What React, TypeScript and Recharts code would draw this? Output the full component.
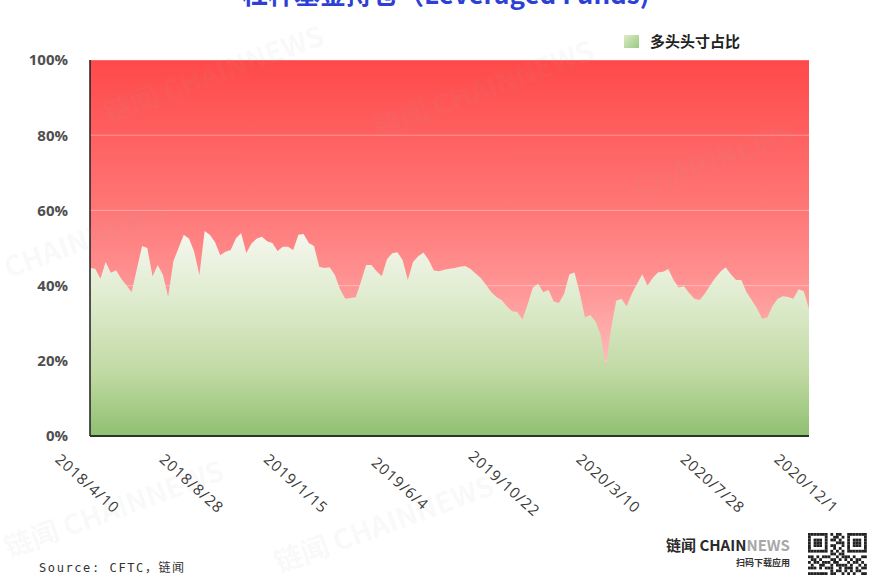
import React from "react";
import { AreaChart, Area, XAxis, YAxis, CartesianGrid } from "recharts";

// Weekly share of long positions (%), leveraged funds, 2018/4/10 .. 2020/12/1
const longRatio: number[] = [
  44.7, 44.5, 41.8, 46.3, 43.4, 44.1, 41.8, 40.0, 38.3, 44.5,
  50.5, 50.0, 42.5, 45.5, 42.8, 37.0, 46.5, 50.0, 53.5, 52.5,
  49.0, 42.8, 54.5, 53.5, 51.5, 48.1, 49.0, 49.5, 52.5, 54.0,
  48.7, 51.2, 52.5, 53.0, 51.8, 51.3, 49.2, 50.3, 50.3, 49.5,
  53.5, 53.7, 51.3, 50.5, 45.0, 44.7, 44.9, 42.8, 39.0, 36.5,
  36.7, 36.9, 41.0, 45.5, 45.5, 43.8, 42.5, 47.0, 48.6, 48.9,
  46.8, 41.5, 46.3, 47.8, 48.8, 46.8, 44.0, 43.8, 44.2, 44.5,
  44.7, 45.0, 45.2, 44.5, 43.2, 42.0, 40.2, 38.3, 37.0, 36.2,
  34.5, 33.2, 33.0, 31.0, 35.0, 39.5, 40.5, 38.2, 38.8, 35.8,
  35.4, 37.8, 43.0, 43.5, 38.0, 31.6, 32.2, 30.5, 27.0, 18.4,
  28.5, 36.0, 36.5, 34.5, 37.8, 40.5, 43.0, 40.0, 42.0, 43.5,
  43.7, 44.4, 41.5, 39.5, 39.8, 38.0, 36.5, 36.2, 37.8, 40.0,
  42.0, 43.7, 44.9, 43.0, 41.5, 41.5, 38.3, 36.2, 34.0, 31.2,
  31.5, 34.6, 36.5, 37.2, 37.0, 36.5, 39.0, 38.5, 33.8,
];

const startDate = [2018, 4, 10];
const xTickLabels = [
  "2018/4/10", "2018/8/28", "2019/1/15", "2019/6/4",
  "2019/10/22", "2020/3/10", "2020/7/28", "2020/12/1",
];
const yTicks = [0, 20, 40, 60, 80, 100];
const titleText = "杠杆基金持仓（Leveraged Funds)";
const legendText = "多头头寸占比";
const sourceText = "Source: CFTC，链闻";

function weeklyDate(i: number): string {
  const d = new Date(Date.UTC(startDate[0], startDate[1] - 1, startDate[2] + 7 * i));
  return `${d.getUTCFullYear()}/${d.getUTCMonth() + 1}/${d.getUTCDate()}`;
}

const data = longRatio.map((v, i) => ({ date: weeklyDate(i), long: v }));

const QR_ROWS = [
  "111111101011001111111",
  "100000100110101000001",
  "101110101101001011101",
  "101110100011101011101",
  "101110101100101011101",
  "100000100101001000001",
  "111111101010101111111",
  "000000001101100000000",
  "110101110010111010011",
  "011010001101010101100",
  "101101110110001011010",
  "010011001011110100101",
  "111010111001011101011",
  "000000001011010101100",
  "111111101100101010011",
];

const XTick = (props: any) => {
  const { x, y, payload } = props;
  return (
    <g transform={`translate(${x},${y})`}>
      <text
        transform="translate(-2,39) rotate(42)"
        textAnchor="middle"
        dominantBaseline="central"
        fill="#3a3a3a"
        fontSize={15}
        letterSpacing={1}
        fontFamily="'Open Sans', 'DejaVu Sans', sans-serif"
      >
        {payload.value}
      </text>
    </g>
  );
};

const watermarks = [
  { x: 110, y: 95, t: "链闻 CHAINNEWS" },
  { x: 380, y: 110, t: "链闻 CHAINNEWS" },
  { x: 10, y: 250, t: "CHAINNEWS" },
  { x: 10, y: 530, t: "链闻 CHAINNEWS" },
  { x: 280, y: 545, t: "链闻 CHAINNEWS" },
  { x: 640, y: 170, t: "CHAINNEWS" },
];

export default function App() {
  return (
    <div
      style={{
        position: "absolute",
        left: 0,
        top: 0,
        width: 875,
        height: 575,
        background: "#ffffff",
        overflow: "hidden",
        fontFamily: "'Open Sans', 'Noto Sans CJK SC', sans-serif",
      }}
    >
      <AreaChart
        width={875}
        height={575}
        data={data}
        margin={{ top: 60, right: 66, bottom: 0, left: 0 }}
      >
        <defs>
          <linearGradient id="redGrad" x1="0" y1="0" x2="0" y2="1">
            <stop offset="0%" stopColor="#FF4949" />
            <stop offset="40%" stopColor="#FF7777" />
            <stop offset="60%" stopColor="#FF9494" />
            <stop offset="80%" stopColor="#FFB9B9" />
            <stop offset="100%" stopColor="#FFD6D6" />
          </linearGradient>
          <linearGradient id="greenGrad" x1="0" y1="0" x2="0" y2="1">
            <stop offset="0%" stopColor="#F6F7EF" />
            <stop offset="35%" stopColor="#DDEBCC" />
            <stop offset="70%" stopColor="#C0D9A2" />
            <stop offset="100%" stopColor="#8FC071" />
          </linearGradient>
        </defs>
        <CartesianGrid
          vertical={false}
          fill="url(#redGrad)"
          fillOpacity={1}
          stroke="#ffffff"
          strokeOpacity={0.35}
        />
        <XAxis
          dataKey="date"
          ticks={xTickLabels}
          interval={0}
          height={139}
          tick={<XTick />}
          tickLine={false}
          axisLine={{ stroke: "#2b342b", strokeWidth: 2 }}
        />
        <YAxis
          domain={[0, 100]}
          ticks={yTicks}
          width={90}
          tickFormatter={(v: number) => `${v}%`}
          tickLine={false}
          tickMargin={16}
          axisLine={{ stroke: "#1e1e1e", strokeWidth: 1.5 }}
          tick={{
            fill: "#4f4f4f",
            fontSize: 15,
            fontWeight: 700,
            fontFamily: "'Open Sans', sans-serif",
          }}
        />
        <Area
          type="linear"
          dataKey="long"
          stroke="none"
          fill="url(#greenGrad)"
          fillOpacity={1}
          isAnimationActive={false}
        />
      </AreaChart>

      {/* title (cut off at the top, as in the reference) */}
      <div
        style={{
          position: "absolute",
          left: 242,
          top: -22,
          fontSize: 26,
          fontWeight: 700,
          color: "#2E3FD6",
          whiteSpace: "nowrap",
          fontFamily: "'Noto Sans CJK SC', 'Open Sans', sans-serif",
          lineHeight: "30px",
        }}
      >
        {titleText}
      </div>

      {/* legend */}
      <div
        style={{
          position: "absolute",
          left: 624,
          top: 33,
          display: "flex",
          alignItems: "center",
          whiteSpace: "nowrap",
        }}
      >
        <div
          style={{
            width: 15,
            height: 13,
            background: "linear-gradient(135deg, #DCEBCB, #9BC97E)",
            marginRight: 11,
          }}
        />
        <span
          style={{
            fontSize: 15,
            fontWeight: 700,
            color: "#222",
            fontFamily: "'Noto Sans CJK SC', sans-serif",
            lineHeight: "16px",
          }}
        >
          {legendText}
        </span>
      </div>

      {/* watermarks */}
      {watermarks.map((w, i) => (
        <div
          key={i}
          style={{
            position: "absolute",
            left: w.x,
            top: w.y,
            fontSize: 28,
            fontWeight: 700,
            color: "rgba(170,170,170,0.08)",
            transform: "rotate(-20deg)",
            transformOrigin: "0 100%",
            whiteSpace: "nowrap",
            pointerEvents: "none",
            fontFamily: "'Noto Sans CJK SC', sans-serif",
            lineHeight: "32px",
          }}
        >
          {w.t}
        </div>
      ))}

      {/* source */}
      <div
        style={{
          position: "absolute",
          left: 39,
          top: 561,
          fontSize: 12,
          letterSpacing: 1.6,
          color: "#333",
          whiteSpace: "nowrap",
          fontFamily: "'DejaVu Sans Mono', 'Noto Sans CJK SC', monospace",
          lineHeight: "14px",
        }}
      >
        {sourceText}
      </div>

      {/* brand */}
      <div
        style={{
          position: "absolute",
          left: 666,
          top: 536,
          fontSize: 15,
          fontWeight: 700,
          whiteSpace: "nowrap",
          lineHeight: "18px",
          fontFamily: "'Noto Sans CJK SC', 'Open Sans', sans-serif",
          color: "#2a2a2a",
        }}
      >
        链闻 CHAIN<span style={{ color: "#a8a8a8" }}>NEWS</span>
      </div>
      <div
        style={{
          position: "absolute",
          left: 736,
          top: 557,
          fontSize: 9,
          fontWeight: 700,
          whiteSpace: "nowrap",
          lineHeight: "12px",
          color: "#333",
          fontFamily: "'Noto Sans CJK SC', sans-serif",
        }}
      >
        扫码下载应用
      </div>
      <svg
        style={{ position: "absolute", left: 808, top: 533 }}
        width={60}
        height={42}
      >
        {QR_ROWS.map((row, r) =>
          row.split("").map((c, k) =>
            c === "1" ? (
              <rect key={`${r}-${k}`} x={k * 2.8} y={r * 2.8} width={2.8} height={2.8} fill="#222" />
            ) : null
          )
        )}
      </svg>
    </div>
  );
}
